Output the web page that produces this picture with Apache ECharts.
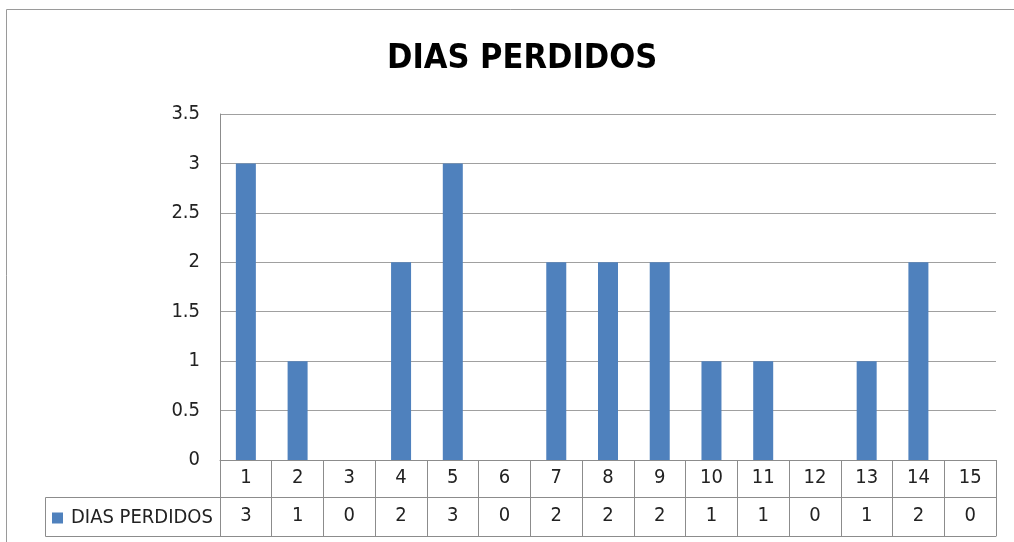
<!DOCTYPE html>
<html>
<head>
<meta charset="utf-8">
<script src="https://cdn.jsdelivr.net/npm/echarts@6/dist/echarts.min.js"></script>
<style>
  html, body { margin: 0; padding: 0; background: #fff; }
  #chart { width: 1014px; height: 542px; }
</style>
</head>
<body>
<div id="chart"></div>
<script>
const categories = ['1', '2', '3', '4', '5', '6', '7', '8', '9', '10', '11', '12', '13', '14', '15'];
const diasPerdidos = [3, 1, 0, 2, 3, 0, 2, 2, 2, 1, 1, 0, 1, 2, 0];
const seriesName = 'DIAS PERDIDOS';

const narrow = '"DejaVu Sans Condensed", sans-serif';
const lineColor = '#8c8c8c';

const chart = echarts.init(document.getElementById('chart'), null, { renderer: 'canvas' });

chart.setOption({
  animation: false,
  title: {
    text: 'DIAS PERDIDOS',
    left: 382,
    top: 37,
    textStyle: { fontFamily: narrow, fontWeight: 'bold', fontSize: 34, color: '#000' }
  },
  legend: {
    data: [seriesName],
    left: 47,
    top: 503,
    icon: 'rect',
    itemWidth: 11,
    itemHeight: 11,
    itemGap: 9,
    textStyle: { fontFamily: narrow, fontSize: 20, color: '#222', padding: [0, 0, 0, 3] }
  },
  grid: { left: 220, right: 18, top: 114, bottom: 82 },
  xAxis: [
    {
      type: 'category',
      data: categories,
      position: 'bottom',
      axisLine: { lineStyle: { color: lineColor } },
      axisTick: { show: true, interval: 0, length: 76, lineStyle: { color: lineColor } },
      axisLabel: { margin: 18, verticalAlign: 'middle', fontFamily: narrow, fontSize: 20, color: '#222' }
    },
    {
      type: 'category',
      data: diasPerdidos.map(String),
      position: 'bottom',
      offset: 37,
      axisLine: { lineStyle: { color: lineColor } },
      axisTick: { show: false },
      axisLabel: { margin: 19, verticalAlign: 'middle', fontFamily: narrow, fontSize: 20, color: '#222' }
    },
    {
      type: 'category',
      data: categories,
      position: 'bottom',
      offset: 76,
      axisLine: { lineStyle: { color: lineColor } },
      axisTick: { show: false },
      axisLabel: { show: false }
    }
  ],
  yAxis: {
    type: 'value',
    min: 0,
    max: 3.5,
    interval: 0.5,
    axisLine: { show: true, lineStyle: { color: lineColor } },
    axisTick: { show: false },
    splitLine: { lineStyle: { color: '#a0a0a0' } },
    axisLabel: { margin: 20, fontFamily: narrow, fontSize: 20, color: '#222' }
  },
  series: [{
    name: seriesName,
    type: 'bar',
    xAxisIndex: 0,
    data: diasPerdidos,
    barWidth: 20,
    itemStyle: { color: '#4f81bd' }
  }],
  graphic: [
    {
      type: 'polyline',
      shape: { points: [[6.5, 542], [6.5, 9.5], [1014, 9.5]] },
      style: { stroke: '#9a9a9a', lineWidth: 1, fill: null }
    },
    {
      type: 'polyline',
      shape: { points: [[220, 497.5], [45.5, 497.5], [45.5, 536.5], [220, 536.5]] },
      style: { stroke: lineColor, lineWidth: 1, fill: null }
    }
  ]
});
</script>
</body>
</html>
